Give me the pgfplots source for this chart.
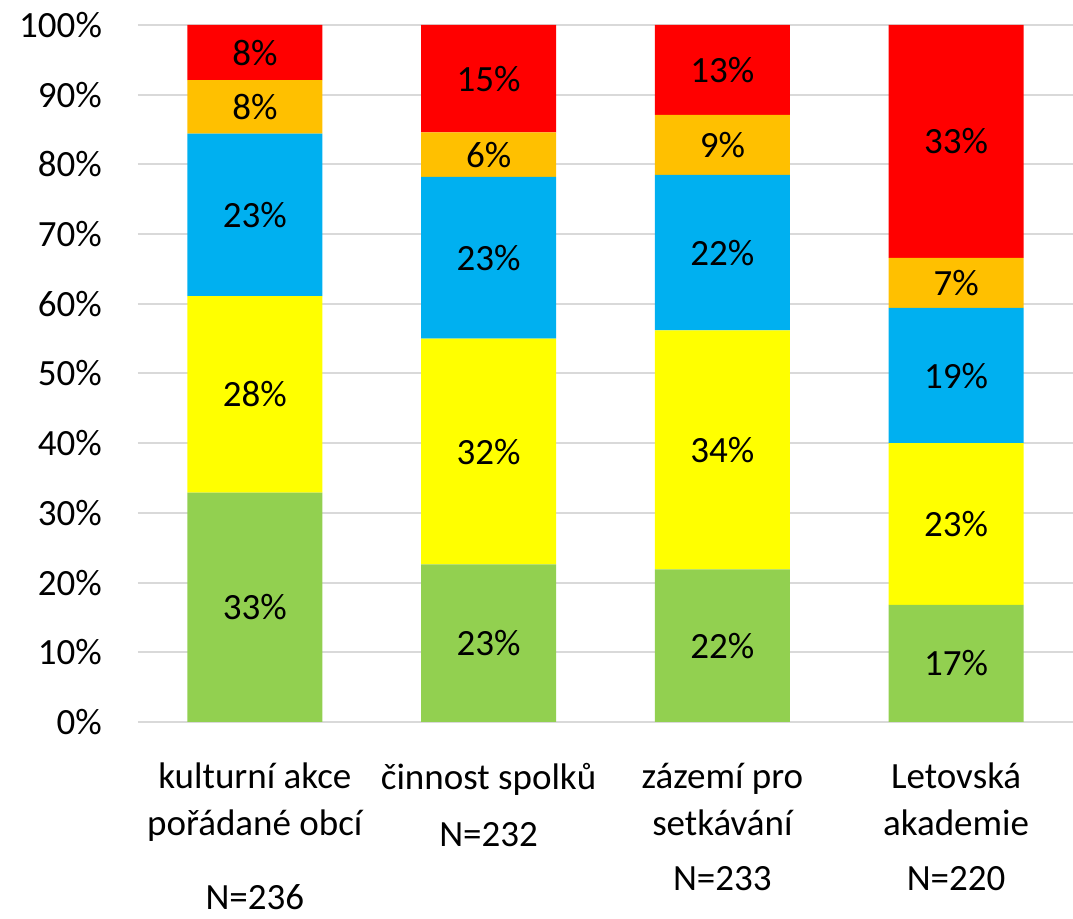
\documentclass[border=0pt]{standalone}
\usepackage{pgfplots}
\pgfplotsset{compat=1.18}
\usepackage{pgfplotstable}
\usepackage{fontspec}
\setmainfont{Carlito}
\definecolor{cgreen}{HTML}{92D050}
\definecolor{cyellow}{HTML}{FFFF00}
\definecolor{cblue}{HTML}{00B0F0}
\definecolor{corange}{HTML}{FFC000}
\definecolor{cred}{HTML}{FF0000}
\definecolor{cgrid}{HTML}{D9D9D9}
\pgfplotstableread{
x g y b o r
0 32.9 28.2 23.3 7.7 7.9
1 22.6 32.4 23.2 6.4 15.4
2 21.9 34.3 22.3 8.6 12.9
3 16.8 23.2 19.4 7.2 33.4
}\data
\begin{document}
\begin{tikzpicture}[font=\fontsize{18.5}{23.5}\selectfont]
\begin{axis}[
  at={(0,0)}, anchor=south west,
  scale only axis, width=467.5pt, height=348.5pt,
  ybar stacked, bar width=67.5pt,
  xmin=-0.5, xmax=3.5, ymin=0, ymax=100,
  xtick={0,1,2,3},
  xticklabels={{kulturní akce\\pořádané obcí\\[13.5pt]N=236},{činnost spolků\\[5pt]N=232},{zázemí pro\\setkávání\\[4pt]N=233},{Letovská\\akademie\\[4pt]N=220}},
  xticklabel style={align=center, anchor=north, yshift=-17pt, font=\fontsize{18.5}{23.5}\selectfont},
  ytick={0,10,...,100},
  yticklabel={\pgfmathprintnumber{\tick}\%},
  yticklabel style={xshift=-14.5pt},
  /pgf/number format/assume math mode=true,
  major tick length=0pt,
  axis line style={draw=none},
  ymajorgrids, grid style={draw=cgrid, line width=1pt},
  enlargelimits=false,
  visualization depends on={rawy \as \rawv},
  nodes near coords={\pgfmathprintnumber[fixed,precision=0]{\rawv}\%},
  every node near coord/.append style={anchor=center, text=black},
]
\addplot[fill=cgreen, draw=none] table[x=x, y=g] {\data};
\addplot[fill=cyellow, draw=none] table[x=x, y=y] {\data};
\addplot[fill=cblue, draw=none] table[x=x, y=b] {\data};
\addplot[fill=corange, draw=none] table[x=x, y=o] {\data};
\addplot[fill=cred, draw=none] table[x=x, y=r] {\data};
\end{axis}
\pgfresetboundingbox
\path (-69pt,-98.5pt) rectangle (467.5pt,361pt);
\end{tikzpicture}
\end{document}
